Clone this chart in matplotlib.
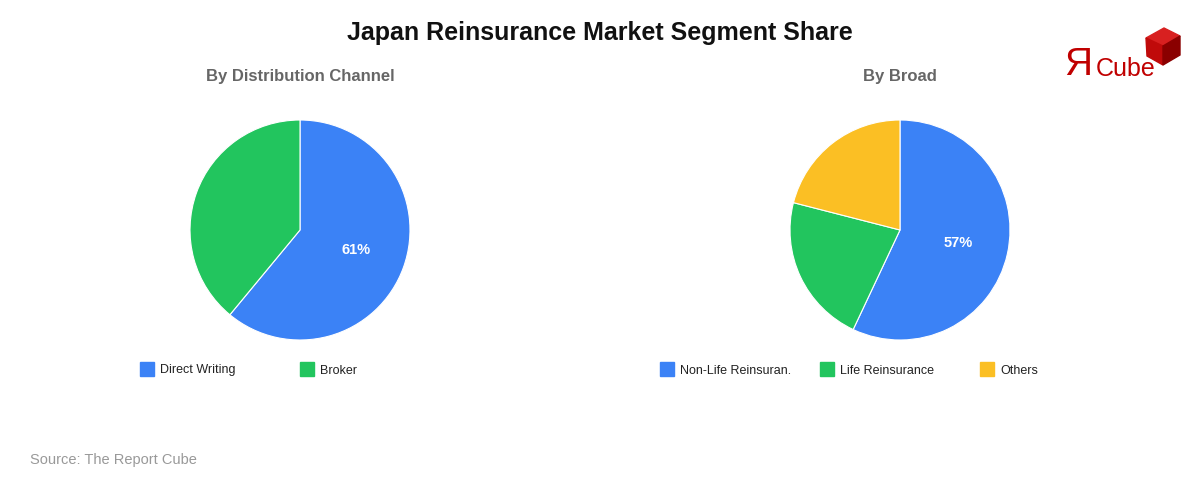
import matplotlib
matplotlib.use("Agg")
import matplotlib.pyplot as plt
import numpy as np
from matplotlib.patches import Rectangle, Polygon

plt.rcParams['font.family'] = ['Liberation Sans', 'DejaVu Sans']

# data
channel_labels = ['Direct Writing', 'Broker']
channel_values = [61, 39]
broad_labels = ['Non-Life Reinsuran.', 'Life Reinsurance', 'Others']
broad_values = [57, 22, 21]

blue = '#3B82F6'
green = '#22C55E'
amber = '#FBBF24'
channel_colors = [blue, green]
broad_colors = [blue, green, amber]

W, H = 1200, 480
fig = plt.figure(figsize=(W / 100, H / 100), dpi=100)
fig.patch.set_facecolor('white')


def px(x, y):
    return x / W, 1 - y / H


def draw_pie(cx, cy, r, values, colors, labels, subtitle):
    ax = fig.add_axes([(cx - r) / W, 1 - (cy + r) / H, 2 * r / W, 2 * r / H])
    ax.pie(values, colors=colors, startangle=90, counterclock=False,
           radius=1, wedgeprops=dict(edgecolor='white', linewidth=0.8))
    ax.set_xlim(-1, 1)
    ax.set_ylim(-1, 1)
    ax.set_aspect('equal')
    ax.axis('off')

    # only the biggest slice gets its percentage
    i = int(np.argmax(values))
    total = sum(values)
    start = 90 - 360 * sum(values[:i]) / total
    mid = np.deg2rad(start - 180 * values[i] / total)
    ax.text(0.54 * np.cos(mid), 0.54 * np.sin(mid), f'{values[i]}%',
            ha='center', va='center', color='white', fontsize=10.5, fontweight='bold')

    fig.text(*px(cx, 77), subtitle, ha='center', va='center',
             fontsize=12, fontweight='bold', color='#666666')

    # legend row
    n = len(values)
    x0 = cx - 80 * n
    for k, (lab, col) in enumerate(zip(labels, colors)):
        lx = x0 + 160 * k
        fig.patches.append(Rectangle(px(lx, 376), 14 / W, 14 / H, color=col,
                                     transform=fig.transFigure, figure=fig))
        fig.text(*px(lx + 20, 373.5), lab, ha='left', va='baseline',
                 fontsize=9, color='#222222')


draw_pie(300, 230, 110, channel_values, channel_colors, channel_labels,
         'By Distribution Channel')
draw_pie(900, 230, 110, broad_values, broad_colors, broad_labels, 'By Broad')

fig.text(*px(600, 33), 'Japan Reinsurance Market Segment Share', ha='center',
         va='center', fontsize=18, fontweight='bold', color='#111111')
fig.text(*px(30, 460), 'Source: The Report Cube', ha='left', va='center',
         fontsize=10.5, color='#999999')

# logo
red = '#C00000'
fig.text(*px(1064, 75), 'Я', ha='left', va='baseline', fontsize=28, color=red)
fig.text(*px(1096, 76), 'Cube', ha='left', va='baseline', fontsize=18, color=red)
top = [(1146, 38), (1164, 28), (1180, 36), (1163, 46)]
left = [(1146, 38), (1163, 46), (1163, 65), (1147, 56)]
right = [(1163, 46), (1180, 36), (1180, 55), (1163, 65)]
for poly, c in [(top, '#D82020'), (left, '#C00A0A'), (right, '#8A0000')]:
    fig.patches.append(Polygon([px(x, y) for x, y in poly], closed=True,
                               color=c, transform=fig.transFigure, figure=fig))

fig.savefig('out.png', dpi=100, facecolor='white')
